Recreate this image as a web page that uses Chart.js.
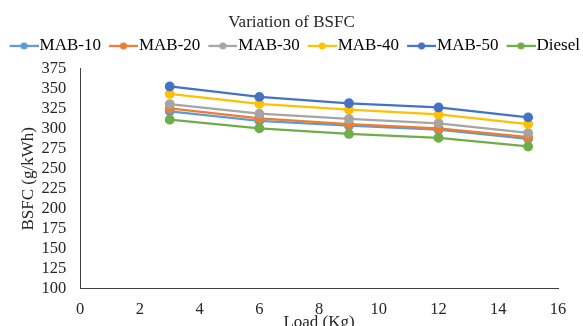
<!DOCTYPE html>
<html><head><meta charset="utf-8">
<script src="https://cdn.jsdelivr.net/npm/chart.js@4/dist/chart.umd.min.js"></script>
<style>html,body{margin:0;padding:0;background:#fff}#wrap{width:583px;height:326px}</style>
</head><body><div id="wrap"><canvas id="c"></canvas></div>
<script>
const loads = [3, 6, 9, 12, 15];
const seriesNames = ['MAB-10', 'MAB-20', 'MAB-30', 'MAB-40', 'MAB-50', 'Diesel'];
const mab10 = [322, 310, 304, 299, 287.5];
const mab20 = [325.5, 313, 306, 300.7, 289.6];
const mab30 = [331, 319, 312.4, 307, 295];
const mab40 = [343.7, 331.3, 324, 318, 306];
const mab50 = [353, 340, 332, 326.8, 314.4];
const diesel = [311.5, 300.7, 293.7, 288.8, 278];
const yTicks = {min: 100, max: 375, step: 25};
const xTicks = {min: 0, max: 16, step: 2};
const colors = ['#5B9BD5', '#ED7D31', '#A5A5A5', '#FFC000', '#4472C4', '#70AD47'];
const allValues = [mab10, mab20, mab30, mab40, mab50, diesel];

function legendIcon(color) {
  const cv = document.createElement('canvas');
  cv.width = 43; cv.height = 10;
  const g = cv.getContext('2d');
  g.strokeStyle = color; g.lineWidth = 2.25;
  g.beginPath(); g.moveTo(14, 5); g.lineTo(43, 5); g.stroke();
  g.fillStyle = color;
  g.beginPath(); g.arc(28.5, 5, 3.5, 0, Math.PI * 2); g.fill();
  return cv;
}

const font = "'Liberation Serif', 'Times New Roman', serif";
const txt = '#262626';
const datasets = seriesNames.map((n, i) => ({
  label: n,
  data: loads.map((x, j) => ({x: x, y: allValues[i][j]})),
  borderColor: colors[i],
  backgroundColor: colors[i],
  pointBackgroundColor: colors[i],
  pointBorderColor: colors[i],
  borderWidth: 2.25,
  pointRadius: 3.8,
  pointStyle: 'circle',
  order: 6 - i,
  _icon: legendIcon(colors[i])
}));

const legendGap = {
  id: 'legendGap',
  afterInit(chart) {
    const lg = chart.legend;
    if (!lg) return;
    const f = lg.fit.bind(lg);
    lg.fit = function () { f(); this.height += 4.5; };
  }
};

new Chart(document.getElementById('c'), {
  type: 'line',
  data: {datasets: datasets},
  plugins: [legendGap],
  options: {
    responsive: true, maintainAspectRatio: false, animation: false,
    layout: {padding: 0},
    plugins: {
      title: {display: true, text: 'Variation of BSFC', color: txt,
        font: {family: font, size: 17, weight: 'normal'}, padding: {top: 12, bottom: 3.5}},
      legend: {position: 'top',
        labels: {usePointStyle: true, pointStyleWidth: 28, boxHeight: 10, padding: 1.5,
          color: txt, font: {family: font, size: 17},
          generateLabels: (chart) => chart.data.datasets.map((d, i) => ({
            text: d.label, fillStyle: d.borderColor, strokeStyle: d.borderColor,
            pointStyle: d._icon, datasetIndex: i, lineWidth: 0, hidden: false
          }))}},
      tooltip: {enabled: false}
    },
    scales: {
      x: {type: 'linear', min: xTicks.min, max: xTicks.max,
        ticks: {stepSize: xTicks.step, autoSkip: false, maxRotation: 0, color: txt, font: {family: font, size: 16.5}, padding: 11},
        grid: {display: false, drawTicks: false},
        border: {color: '#404040', width: 1},
        title: {display: true, text: 'Load (Kg)', color: txt, font: {family: font, size: 17}, padding: {top: -18, bottom: -7}}
      },
      y: {min: yTicks.min, max: yTicks.max,
        ticks: {stepSize: yTicks.step, autoSkip: false, color: txt, font: {family: font, size: 16.5}, padding: 14},
        grid: {display: false, drawTicks: false},
        border: {color: '#404040', width: 1},
        title: {display: true, text: 'BSFC (g/kWh)', color: txt, font: {family: font, size: 17}, padding: {top: 18, bottom: -11}}
      },
      yr: {position: 'right', display: true,
        ticks: {display: false}, grid: {display: false, drawTicks: false}, border: {display: false},
        afterFit: (s) => { s.width = 25; }
      }
    }
  }
});
</script></body></html>
